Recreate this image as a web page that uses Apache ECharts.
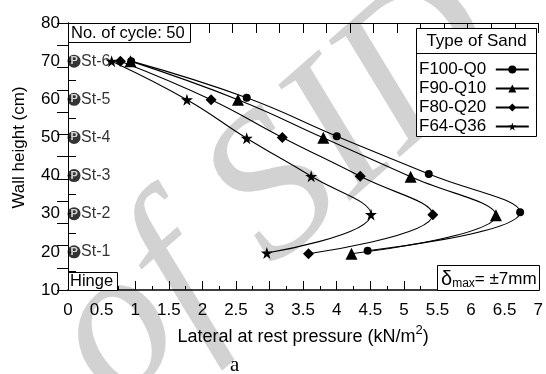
<!DOCTYPE html>
<html>
<head>
<meta charset="utf-8">
<script src="https://cdn.jsdelivr.net/npm/echarts@6/dist/echarts.min.js"></script>
<style>html,body{margin:0;padding:0;background:#fff}#c{width:546px;height:374px}</style>
</head>
<body>
<div id="c"></div>
<script>
// ---- data ----
const seriesNames = ['F100-Q0', 'F90-Q10', 'F80-Q20', 'F64-Q36'];
const f100X = [0.94, 2.66, 4.00, 5.37, 6.73, 4.46];
const f100H = [70, 60.4, 50.3, 40.4, 30.4, 20.3];
const f90X  = [0.93, 2.53, 3.80, 5.10, 6.37, 4.22];
const f90H  = [70, 59.9, 49.9, 39.7, 29.6, 19.5];
const f80X  = [0.78, 2.13, 3.19, 4.35, 5.43, 3.58];
const f80H  = [70, 59.9, 50.0, 39.8, 29.7, 19.5];
const f64X  = [0.65, 1.77, 2.66, 3.62, 4.51, 2.96];
const f64H  = [70, 59.9, 49.8, 39.8, 29.8, 19.7];
const sensorX = 0.09;
const sensorH = [70, 60, 50, 40, 30, 20];
const sensorNames = ['St-6', 'St-5', 'St-4', 'St-3', 'St-2', 'St-1'];
const xTicks = ['0','0.5','1','1.5','2','2.5','3','3.5','4','4.5','5','5.5','6','6.5','7'];

const FONT = 'Liberation Sans';
const star = 'path://M50,0 L61,35 L98,35 L68,57 L79,91 L50,70 L21,91 L32,57 L2,35 L39,35 Z';
const symbols = ['circle', 'triangle', 'diamond', star];
const sizes = [8, 12, 11, 12];
const xsAll = [f100X, f90X, f80X, f64X];
const hsAll = [f100H, f90H, f80H, f64H];

const chart = echarts.init(document.getElementById('c'), null, {renderer: 'canvas'});

const lineSeries = seriesNames.map((n, i) => ({
  name: n,
  type: 'line',
  smooth: 0.45,
  data: xsAll[i].map((x, k) => [x, hsAll[i][k]]),
  symbol: symbols[i],
  symbolSize: sizes[i],
  showAllSymbol: true,
  lineStyle: {color: '#000', width: 1.1},
  itemStyle: {color: '#000', borderWidth: 0},
  z: 5
}));

const option = {
  animation: false,
  textStyle: {fontFamily: FONT},
  grid: {left: 68, right: 6, top: 23, bottom: 84, containLabel: false},
  legend: {
    data: seriesNames,
    orient: 'vertical',
    left: 419, top: 60,
    align: 'right',
    itemWidth: 33, itemHeight: 10,
    itemGap: 0,
    formatter: n => n + ' ',
    textStyle: {fontFamily: FONT, fontSize: 17, color: '#000', lineHeight: 19},
    padding: 0
  },
  xAxis: [{
    type: 'value', min: 0, max: 7, interval: 0.5, position: 'bottom',
    name: 'Lateral at rest pressure (kN/m{sup|2})',
    nameLocation: 'middle', nameGap: 34,
    nameTextStyle: {fontFamily: FONT, fontSize: 18, color: '#000',
      rich: {sup: {fontFamily: FONT, fontSize: 13, color: '#000', verticalAlign: 'top', padding: [0,0,14,0]}}},
    axisLine: {lineStyle: {color: '#000', width: 1.5}},
    axisTick: {inside: true, length: 9, lineStyle: {color: '#000'}},
    minorTick: {show: true, splitNumber: 2, length: 4, lineStyle: {color: '#000'}},
    axisLabel: {fontFamily: FONT, fontSize: 17, color: '#000', margin: 12,
      formatter: v => xTicks[Math.round(v * 2)]},
    splitLine: {show: false}
  }, {
    type: 'value', min: 0, max: 20, interval: 1, position: 'top',
    axisLine: {show: true, lineStyle: {color: '#000', width: 1}},
    axisTick: {inside: true, length: 10, lineStyle: {color: '#000'}},
    axisLabel: {show: false}, splitLine: {show: false}
  }],
  yAxis: [{
    type: 'value', min: 10, max: 80, interval: 10, position: 'left',
    name: 'Wall height (cm)', nameLocation: 'middle', nameGap: 40,
    nameTextStyle: {fontFamily: FONT, fontSize: 17, color: '#000', padding: [0, 0, 0, 18]},
    axisLine: {lineStyle: {color: '#000', width: 1}},
    axisTick: {inside: true, length: 8, lineStyle: {color: '#000'}},
    minorTick: {show: true, splitNumber: 2, length: 8, lineStyle: {color: '#000'}},
    axisLabel: {fontFamily: FONT, fontSize: 17, color: '#000', margin: 8},
    splitLine: {show: false}
  }, {
    type: 'value', min: 0, max: 12, interval: 1, position: 'right',
    axisLine: {show: true, lineStyle: {color: '#000', width: 1}},
    axisTick: {inside: true, length: 11, lineStyle: {color: '#000'}},
    axisLabel: {show: false}, splitLine: {show: false}
  }],
  series: lineSeries.concat([{
    name: 'sensors', type: 'scatter',
    data: sensorH.map((h, k) => ({value: [sensorX, h], name: sensorNames[k]})),
    symbol: 'circle', symbolSize: 13,
    itemStyle: {color: '#000'},
    label: {show: true, position: 'inside', formatter: 'P', color: '#fff',
      fontFamily: FONT, fontSize: 11, fontWeight: 'bold'},
    z: 6
  }, {
    name: 'sensorNames', type: 'scatter',
    data: sensorH.map((h, k) => ({value: [sensorX, h], name: sensorNames[k]})),
    symbolSize: 12, itemStyle: {color: 'rgba(0,0,0,0)'},
    label: {show: true, position: 'right', distance: 1, formatter: p => p.name,
      color: '#000', fontFamily: FONT, fontSize: 16},
    z: 6
  }]),
  graphic: [
    {type: 'text', z: 0, x: 278, y: 192, rotation: 0.72, silent: true,
      style: {text: 'of SID', fontFamily: 'Liberation Serif', fontStyle: 'italic', fontWeight: 'normal',
        fontSize: 205, fill: '#d2d2d2', align: 'center', verticalAlign: 'middle'}},
    {type: 'rect', shape: {x: 68.5, y: 23.5, width: 122, height: 19}, style: {fill: '#fff', stroke: '#000', lineWidth: 1}, z: 10},
    {type: 'text', x: 71, y: 33.5, style: {text: 'No. of cycle: 50', fontFamily: FONT, fontSize: 16.5, fill: '#000', verticalAlign: 'middle'}, z: 11},
    {type: 'rect', shape: {x: 68.5, y: 272.5, width: 49, height: 18}, style: {fill: '#fff', stroke: '#000', lineWidth: 1}, z: 10},
    {type: 'text', x: 70, y: 281.5, style: {text: 'Hinge', fontFamily: FONT, fontSize: 16.5, fill: '#000', verticalAlign: 'middle'}, z: 11},
    {type: 'rect', shape: {x: 437.5, y: 265.5, width: 102, height: 25}, style: {fill: '#fff', stroke: '#000', lineWidth: 1}, z: 10},
    {type: 'text', x: 441, y: 279, z: 11, style: {
      text: '{d|δ}{s|max}{t|= ±7mm}', verticalAlign: 'middle',
      rich: {d: {fontFamily: FONT, fontSize: 20, fill: '#000'},
             s: {fontFamily: FONT, fontSize: 12, fill: '#000', padding: [10,0,0,0]},
             t: {fontFamily: FONT, fontSize: 17, fill: '#000'}}}},
    {type: 'rect', shape: {x: 416.5, y: 28.5, width: 120, height: 108}, style: {fill: '#fff', stroke: '#000', lineWidth: 1}, z: 1},
    {type: 'line', shape: {x1: 416.5, y1: 53.5, x2: 536.5, y2: 53.5}, style: {stroke: '#000', lineWidth: 1}, z: 2},
    {type: 'text', x: 476.5, y: 41, style: {text: 'Type of Sand', fontFamily: FONT, fontSize: 17, fill: '#000', align: 'center', verticalAlign: 'middle'}, z: 2},
    {type: 'text', x: 230, y: 376, style: {text: 'a', fontFamily: 'Liberation Serif', fontSize: 21, fill: '#000', verticalAlign: 'bottom'}, z: 2}
  ]
};
chart.setOption(option);
</script>
</body>
</html>
